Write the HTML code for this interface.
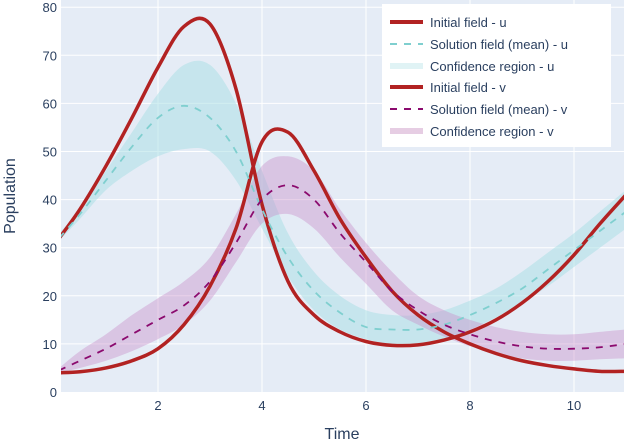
<!DOCTYPE html>
<html><head><meta charset="utf-8"><style>
body{margin:0;background:#fff;font-family:"Liberation Sans",sans-serif}
svg text{font-family:"Liberation Sans",sans-serif;fill:#2a3f5f}
</style></head><body>
<svg id="chart" width="624" height="440" xmlns="http://www.w3.org/2000/svg">
<rect x="61" y="0" width="563" height="392" fill="#e5ecf6"/>
<g id="grid"></g>
<g id="marks"></g>
<g id="ticks"></g>
<text x="342" y="439" text-anchor="middle" font-size="16">Time</text>
<text transform="translate(15,196) rotate(-90)" text-anchor="middle" font-size="16">Population</text>
<g>
<rect x="382" y="4" width="229" height="143" fill="#fff"/>
<line x1="390" y1="22" x2="423" y2="22" stroke="#b22222" stroke-width="4"/>
<text x="430" y="27" font-size="13">Initial field - u</text>
<line x1="390" y1="44" x2="423" y2="44" stroke="#7fcfcf" stroke-width="2" stroke-dasharray="7,7"/>
<text x="430" y="49" font-size="13">Solution field (mean) - u</text>
<line x1="390" y1="66" x2="423" y2="66" stroke="#e0f3f5" stroke-width="6"/>
<text x="430" y="71" font-size="13">Confidence region - u</text>
<line x1="390" y1="87" x2="423" y2="87" stroke="#b22222" stroke-width="4"/>
<text x="430" y="92" font-size="13">Initial field - v</text>
<line x1="390" y1="109" x2="423" y2="109" stroke="#8b0a6e" stroke-width="2" stroke-dasharray="7,7"/>
<text x="430" y="114" font-size="13">Solution field (mean) - v</text>
<line x1="390" y1="131" x2="423" y2="131" stroke="#e6cde3" stroke-width="6"/>
<text x="430" y="136" font-size="13">Confidence region - v</text>
</g>
</svg>
<script>
const times=[0.1,0.5,1,1.5,2,2.5,3,3.5,4,4.5,5,5.5,6,6.5,7,7.5,8,8.5,9,9.5,10,10.5,11];
const uInit=[32,38,47,57,67.5,76,76.5,63,39,23,16,12.5,10.5,9.7,9.8,10.8,12.5,15,18.5,23,28.5,35,41];
const vInit=[4,4.2,5,6.5,9,14,22,34,52,54,46,36,28,21,16,12.5,10,8,6.5,5.5,4.8,4.3,4.3];
const uMean=[32,37,44,51,57,59.5,57,50,38,28,21,16.5,13.5,13,13,14,16,18.5,21.5,25.5,29.5,33.5,37.5];
const uUpper=[33,38,46,54,62,68,68,60,46,33,25,20,17,16,16,17,19,21.5,25,29,33,37.5,42];
const uLower=[31.5,36,42,46,49,50.5,50,44,34,24,17,13,11,10,10,11,13,15.5,18.5,22,26,30,34];
const vMean=[4.5,6.5,9,12,15,18,23,31,40,43,40,33,27,21,17,14,12,10.5,9.5,9,9,9.3,10];
const vUpper=[5,8.5,12,16,19.5,23,28,37,47,49,46,38,31,25,20,17,15,13.5,12.5,12,12,12.5,13];
const vLower=[4,5,6.5,8.5,11,14,19,27,35,37,34,28,22.5,17,14,11.5,9.5,8,7,6.5,6.5,6.8,7];
const xTicks=[2,4,6,8,10];
const yTicks=[0,10,20,30,40,50,60,70,80];
const X=t=>54+52*t, Y=v=>392-4.81*v;
const NS="http://www.w3.org/2000/svg";
function pts(vals){return times.map((t,i)=>[X(t),Y(vals[i])]);}
function smooth(p,move){let d=move?`M${p[0][0]},${p[0][1]}`:`L${p[0][0]},${p[0][1]}`;
for(let i=0;i<p.length-1;i++){const a=p[i-1]||p[i],b=p[i],c=p[i+1],e=p[i+2]||c;
d+=`C${b[0]+(c[0]-a[0])/6},${b[1]+(c[1]-a[1])/6} ${c[0]-(e[0]-b[0])/6},${c[1]-(e[1]-b[1])/6} ${c[0]},${c[1]}`;}return d;}
const grid=document.getElementById('grid'),marks=document.getElementById('marks'),ticks=document.getElementById('ticks');
xTicks.forEach(t=>{const l=document.createElementNS(NS,'line');


l.setAttribute('x1',X(t));l.setAttribute('x2',X(t));l.setAttribute('y1',0);l.setAttribute('y2',392);l.setAttribute('stroke','#fff');grid.appendChild(l);
const tx=document.createElementNS(NS,'text');


tx.setAttribute('x',X(t));tx.setAttribute('y',410);tx.setAttribute('text-anchor','middle');tx.setAttribute('font-size','13');tx.textContent=t;ticks.appendChild(tx);});
yTicks.forEach(v=>{const l=document.createElementNS(NS,'line');


l.setAttribute('x1',61);l.setAttribute('x2',624);l.setAttribute('y1',Y(v));l.setAttribute('y2',Y(v));l.setAttribute('stroke','#fff');l.setAttribute('stroke-width',v===0?0:1);grid.appendChild(l);
const tx=document.createElementNS(NS,'text');


tx.setAttribute('x',57);tx.setAttribute('y',Y(v)+5);tx.setAttribute('text-anchor','end');tx.setAttribute('font-size','13');tx.textContent=v;ticks.appendChild(tx);});
function band(up,lo,fill,name){const p=document.createElementNS(NS,'path');


p.setAttribute('d',smooth(pts(up),true)+smooth(pts(lo).reverse(),false)+'Z');p.setAttribute('fill',fill);marks.appendChild(p);}
function line(vals,stroke,w,dash,name){const p=document.createElementNS(NS,'path');


p.setAttribute('d',smooth(pts(vals),true));p.setAttribute('fill','none');p.setAttribute('stroke',stroke);p.setAttribute('stroke-width',w);if(dash)p.setAttribute('stroke-dasharray',dash);marks.appendChild(p);}
const cp=document.createElementNS(NS,'clipPath');cp.id='clip';const cr=document.createElementNS(NS,'rect');cr.setAttribute('x',61);cr.setAttribute('y',0);cr.setAttribute('width',563);cr.setAttribute('height',392);cp.appendChild(cr);document.getElementById('chart').appendChild(cp);
marks.setAttribute('clip-path','url(#clip)');
band(uUpper,uLower,'rgba(173,224,230,0.55)','confidence-region-u');
band(vUpper,vLower,'rgba(200,140,200,0.4)','confidence-region-v');
line(uInit,'#b22222',3.5,null,'initial-field-u');
line(vInit,'#b22222',3.5,null,'initial-field-v');
line(uMean,'#7fcfcf',1.8,'7,7','solution-mean-u');
line(vMean,'#8b0a6e',1.8,'7,7','solution-mean-v');
</script>
</body></html>
